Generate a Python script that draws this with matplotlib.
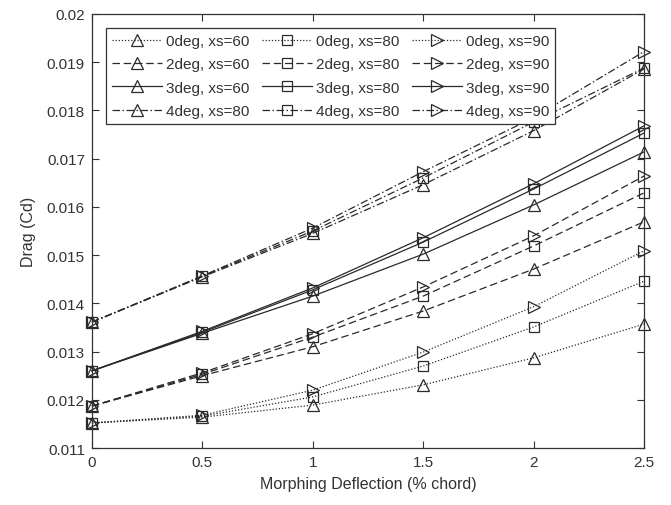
import matplotlib
matplotlib.use("Agg")
import matplotlib.pyplot as plt

plt.rcParams['font.family'] = ['Liberation Sans', 'DejaVu Sans']

x = [0, 0.5, 1, 1.5, 2, 2.5]

# triangle (up) series
d0_xs60 = [0.01152, 0.01164, 0.01189, 0.01231, 0.01287, 0.01357]
d2_xs60 = [0.01187, 0.01250, 0.01310, 0.01384, 0.01471, 0.01569]
d3_xs60 = [0.01260, 0.01338, 0.01415, 0.01502, 0.01604, 0.01714]
d4_xs60 = [0.01361, 0.01455, 0.01545, 0.01646, 0.01758, 0.01886]
# square series
d0_xs80 = [0.01152, 0.01166, 0.01206, 0.01270, 0.01351, 0.01446]
d2_xs80 = [0.01187, 0.01253, 0.01330, 0.01415, 0.01519, 0.01629]
d3_xs80 = [0.01260, 0.01340, 0.01428, 0.01527, 0.01637, 0.01753]
d4_xs80 = [0.01361, 0.01456, 0.01550, 0.01660, 0.01776, 0.01888]
# right-triangle series
d0_xs90 = [0.01152, 0.01168, 0.01220, 0.01299, 0.01393, 0.01509]
d2_xs90 = [0.01187, 0.01256, 0.01337, 0.01434, 0.01540, 0.01664]
d3_xs90 = [0.01260, 0.01342, 0.01432, 0.01536, 0.01648, 0.01768]
d4_xs90 = [0.01361, 0.01457, 0.01556, 0.01673, 0.01785, 0.01922]

labels_60 = ["0deg, xs=60", "2deg, xs=60", "3deg, xs=60", "4deg, xs=80"]
labels_80 = ["0deg, xs=80", "2deg, xs=80", "3deg, xs=80", "4deg, xs=80"]
labels_90 = ["0deg, xs=90", "2deg, xs=90", "3deg, xs=90", "4deg, xs=90"]

xticks = [0, 0.5, 1, 1.5, 2, 2.5]
xtick_labels = ["0", "0.5", "1", "1.5", "2", "2.5"]
yticks = [0.011, 0.012, 0.013, 0.014, 0.015, 0.016, 0.017, 0.018, 0.019, 0.02]
ytick_labels = ["0.011", "0.012", "0.013", "0.014", "0.015", "0.016", "0.017", "0.018", "0.019", "0.02"]

styles = [(0, (1, 1.5)), (0, (6, 3)), '-', (0, (6, 2, 1.2, 2))]

fig = plt.figure(figsize=(6.71, 5.06), dpi=100)
ax = fig.add_axes([0.137, 0.1126, 0.823, 0.858])

col = '#2a2a2a'
groups = [
    ([d0_xs60, d2_xs60, d3_xs60, d4_xs60], labels_60, '^'),
    ([d0_xs80, d2_xs80, d3_xs80, d4_xs80], labels_80, 's'),
    ([d0_xs90, d2_xs90, d3_xs90, d4_xs90], labels_90, '>'),
]
for series, labels, mk in groups:
    for ys, lab, ls in zip(series, labels, styles):
        ms = 6.5 if mk == 's' else 8
        ax.plot(x, ys, linestyle=ls, color=col, linewidth=0.9, marker=mk,
                markersize=ms, markerfacecolor='none', markeredgecolor=col,
                markeredgewidth=0.9, label=lab, clip_on=False)

ax.set_xlim(0, 2.5)
ax.set_ylim(0.011, 0.02)
ax.set_xticks(xticks)
ax.set_xticklabels(xtick_labels)
ax.set_yticks(yticks)
ax.set_yticklabels(ytick_labels)
ax.tick_params(direction='in', length=5, width=0.8, top=True, right=True,
               labelsize=11, colors='#333333', pad=5)
for s in ax.spines.values():
    s.set_color('#333333')
    s.set_linewidth(0.9)

ax.set_xlabel("Morphing Deflection (% chord)", fontsize=11.5, color='#333333', labelpad=5)
ax.set_ylabel("Drag (Cd)", fontsize=11.5, color='#333333', labelpad=8)

leg = ax.legend(ncol=3, loc='upper left', bbox_to_anchor=(0.025, 0.968),
                borderaxespad=0, fontsize=11, handlelength=3.3, handletextpad=0.25,
                columnspacing=0.8, labelspacing=0.62, fancybox=False, framealpha=1,
                edgecolor='#333333', borderpad=0.4)
leg.get_frame().set_linewidth(0.9)
for t in leg.get_texts():
    t.set_color('#333333')

fig.savefig("out.png", dpi=100)
